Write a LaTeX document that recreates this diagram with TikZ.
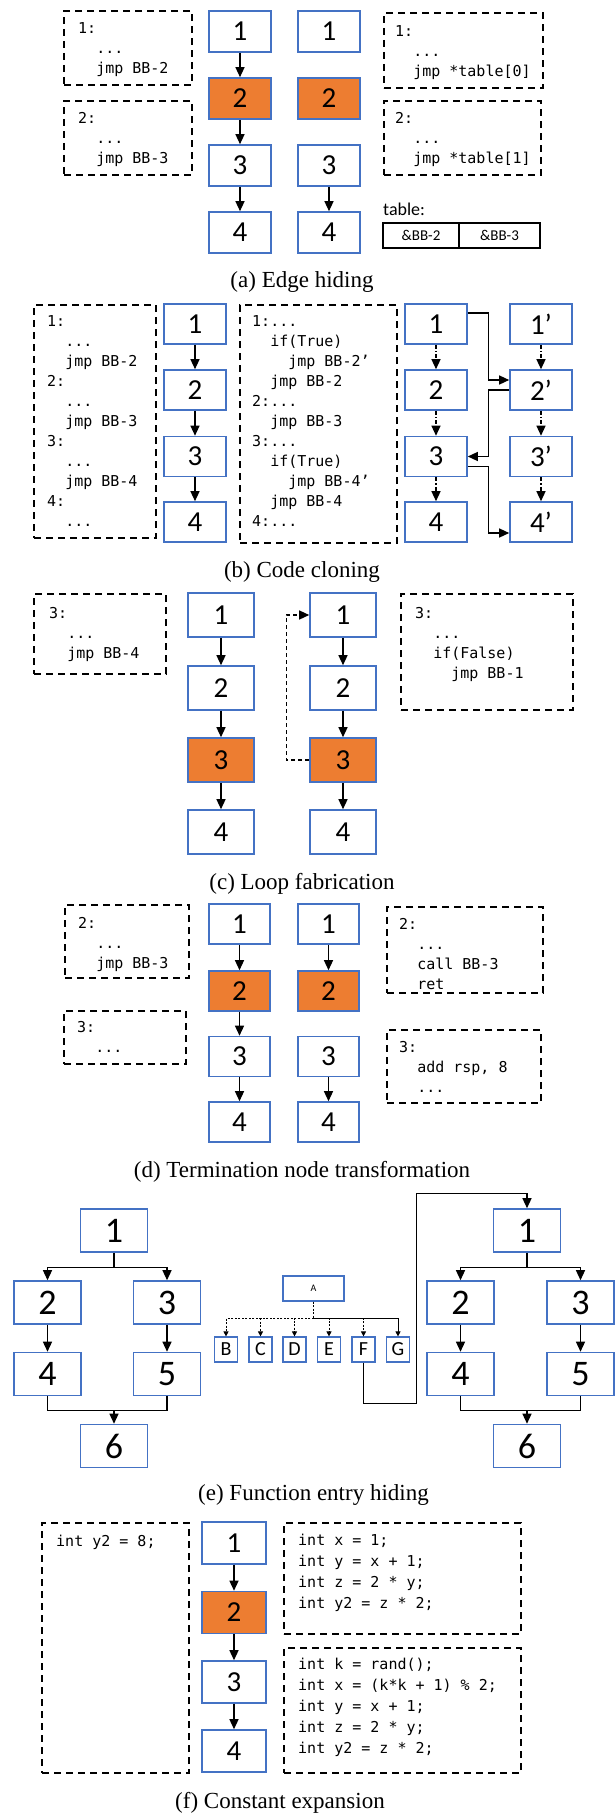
\documentclass[tikz,border=0pt]{standalone}
\usepackage{fontspec}
\setmainfont{Liberation Serif}
\setmonofont{DejaVu Sans Mono}
\newfontfamily\calibri{Carlito}
\usetikzlibrary{arrows.meta}
\definecolor{bbblue}{RGB}{68,114,196}
\definecolor{bborange}{RGB}{237,125,49}
\tikzset{
  bb/.style={draw=bbblue, line width=1.6pt, fill=white, inner sep=0pt,
    minimum width=62pt, minimum height=41pt, font=\calibri\fontsize{29}{29}\selectfont},
  hot/.style={fill=bborange},
  ebb/.style={bb, minimum width=67pt, minimum height=43pt, font=\calibri\fontsize{36}{36}\selectfont},
  sbb/.style={draw=bbblue, line width=1.2pt, fill=white, inner sep=0pt,
    minimum width=23pt, minimum height=25pt, font=\calibri\fontsize{20}{20}\selectfont},
  codebox/.style={draw, line width=2pt, dash pattern=on 7pt off 5pt, anchor=north west, inner sep=0pt},
  codetext/.style={anchor=north west, inner sep=0pt, align=left, font=\ttfamily\fontsize{15}{20}\selectfont},
  fcode/.style={codetext, font=\ttfamily\fontsize{15}{21}\selectfont},
  tcell/.style={draw, line width=2pt, inner sep=0pt, minimum height=25pt, font=\calibri\fontsize{15}{15}\selectfont},
  arr/.style={-{Triangle[length=10pt,width=9pt]}, line width=1.3pt},
  darr/.style={arr, dash pattern=on 4pt off 2pt on 1.5pt off 2pt},
  sarr/.style={-{Triangle[length=5pt,width=5pt]}, line width=0.8pt},
  captext/.style={font=\fontsize{23}{23}\selectfont},
}
\begin{document}
\begin{tikzpicture}[x=1pt,y=-1pt]
\useasboundingbox (0,0) rectangle (614,1814);

\node[codebox, minimum width=128pt, minimum height=74pt] (al1) at (63,10) {};
\node[codetext] (al1t) at ([shift={(15,12)}]al1.north west) {1:\\~~...\\~~jmp BB-2};
\node[codebox, minimum width=128pt, minimum height=74pt] (al2) at (63,100) {};
\node[codetext] (al2t) at ([shift={(15,12)}]al2.north west) {2:\\~~...\\~~jmp BB-3};
\node[codebox, minimum width=159pt, minimum height=75pt] (ar1) at (383,12) {};
\node[codetext] (ar1t) at ([shift={(12,13)}]ar1.north west) {1:\\~~...\\~~jmp *table[0]};
\node[codebox, minimum width=157pt, minimum height=74pt] (ar2) at (383,100) {};
\node[codetext] (ar2t) at ([shift={(12,12)}]ar2.north west) {2:\\~~...\\~~jmp *table[1]};

\node[bb] (aa1) at (240,31.5) {1};
\node[bb,hot] (aa2) at (240,98.5) {2};
\node[bb] (aa3) at (240,165.5) {3};
\node[bb] (aa4) at (240,232.5) {4};
\node[bb] (ab1) at (329,31.5) {1};
\node[bb,hot] (ab2) at (329,98.5) {2};
\node[bb] (ab3) at (329,165.5) {3};
\node[bb] (ab4) at (329,232.5) {4};
\draw[arr] (aa1) -- (aa2);
\draw[arr] (aa2) -- (aa3);
\draw[arr] (aa3) -- (aa4);
\draw[arr] (ab3) -- (ab4);

\node[font=\calibri\fontsize{18}{18}\selectfont, anchor=base west, inner sep=0pt] (atab) at (383,215) {table:};
\node[tcell, minimum width=76pt] (atc1) at (421,235.5) {\&BB-2};
\node[tcell, minimum width=81pt] (atc2) at (499.5,235.5) {\&BB-3};
\node[captext] (capa) at (302,282) {(a) Edge hiding};

\node[codebox, minimum width=122pt, minimum height=233pt] (bl) at (33,304) {};
\node[codetext] (blt) at ([shift={(14,11)}]bl.north west)
  {1:\\~~...\\~~jmp BB-2\\2:\\~~...\\~~jmp BB-3\\3:\\~~...\\~~jmp BB-4\\4:\\~~...};
\node[codebox, minimum width=157pt, minimum height=238pt] (bm) at (239,304) {};
\node[codetext] (bmt) at ([shift={(13,11)}]bm.north west)
  {1:...\\~~if(True)\\~~~~jmp BB-2’\\~~jmp BB-2\\2:...\\~~jmp BB-3\\3:...\\~~if(True)\\~~~~jmp BB-4’\\~~jmp BB-4\\4:...};

\node[bb, minimum height=40pt] (ba1) at (195,324) {1};
\node[bb, minimum height=40pt] (ba2) at (195,390) {2};
\node[bb, minimum height=40pt] (ba3) at (195,456.5) {3};
\node[bb, minimum height=40pt] (ba4) at (195,522) {4};
\node[bb, minimum height=40pt] (bc1) at (436,324) {1};
\node[bb, minimum height=40pt] (bc2) at (436,390) {2};
\node[bb, minimum height=40pt] (bc3) at (436,456.5) {3};
\node[bb, minimum height=40pt] (bc4) at (436,522) {4};
\node[bb, minimum height=40pt] (bd1) at (541,324) {1’};
\node[bb, minimum height=40pt] (bd2) at (541,390) {2’};
\node[bb, minimum height=40pt] (bd3) at (541,456.5) {3’};
\node[bb, minimum height=40pt] (bd4) at (541,522) {4’};
\draw[arr] (ba1) -- (ba2);
\draw[arr] (ba2) -- (ba3);
\draw[arr] (ba3) -- (ba4);
\draw[darr] (bc1) -- (bc2);
\draw[darr] (bc2) -- (bc3);
\draw[darr] (bc3) -- (bc4);
\draw[darr] (bd1) -- (bd2);
\draw[darr] (bd2) -- (bd3);
\draw[darr] (bd3) -- (bd4);
\draw[arr] ([yshift=11pt]bc1.east) -- ++(21,0) |- ([yshift=10pt]bd2.west);
\draw[arr] (bd2.west) -- ++(-21,0) |- (bc3.east);
\draw[arr] ([yshift=-10pt]bc3.east) -- ++(21,0) |- ([yshift=-11pt]bd4.west);
\node[captext] (capb) at (302,572) {(b) Code cloning};

\node[codebox, minimum width=132pt, minimum height=80pt] (cl) at (33,593) {};
\node[codetext] (clt) at ([shift={(16,14)}]cl.north west) {3:\\~~...\\~~jmp BB-4};
\node[codebox, minimum width=172pt, minimum height=116pt] (cr) at (400,593) {};
\node[codetext] (crt) at ([shift={(15,14)}]cr.north west) {3:\\~~...\\~~if(False)\\~~~~jmp BB-1};

\node[bb, minimum width=66pt, minimum height=44pt] (ca1) at (221,615) {1};
\node[bb, minimum width=66pt, minimum height=44pt] (ca2) at (221,688) {2};
\node[bb, hot, minimum width=66pt, minimum height=44pt] (ca3) at (221,760) {3};
\node[bb, minimum width=66pt, minimum height=44pt] (ca4) at (221,832) {4};
\node[bb, minimum width=66pt, minimum height=44pt] (cb1) at (343,615) {1};
\node[bb, minimum width=66pt, minimum height=44pt] (cb2) at (343,688) {2};
\node[bb, hot, minimum width=66pt, minimum height=44pt] (cb3) at (343,760) {3};
\node[bb, minimum width=66pt, minimum height=44pt] (cb4) at (343,832) {4};
\draw[arr] (ca1) -- (ca2);
\draw[arr] (ca2) -- (ca3);
\draw[arr] (ca3) -- (ca4);
\draw[arr] (cb1) -- (cb2);
\draw[arr] (cb2) -- (cb3);
\draw[arr] (cb3) -- (cb4);
\draw[arr, dash pattern=on 4pt off 3pt] (cb3.west) -- ++(-23,0) |- (cb1.west);
\node[captext] (capc) at (302,884) {(c) Loop fabrication};

\node[codebox, minimum width=124pt, minimum height=73pt] (dl1) at (64,904) {};
\node[codetext] (dl1t) at ([shift={(14,13)}]dl1.north west) {2:\\~~...\\~~jmp BB-3};
\node[codebox, minimum width=122pt, minimum height=53pt] (dl2) at (63,1010) {};
\node[codetext] (dl2t) at ([shift={(14,11)}]dl2.north west) {3:\\~~...};
\node[codebox, minimum width=156pt, minimum height=86pt] (dr1) at (386,906) {};
\node[codetext] (dr1t) at ([shift={(13,12)}]dr1.north west) {2:\\~~...\\~~call BB-3\\~~ret};
\node[codebox, minimum width=154pt, minimum height=73pt] (dr2) at (386,1029) {};
\node[codetext] (dr2t) at ([shift={(13,12)}]dr2.north west) {3:\\~~add rsp, 8\\~~...};

\node[bb, minimum width=61pt, minimum height=40pt] (da1) at (239.5,924) {1};
\node[bb, hot, minimum width=61pt, minimum height=40pt] (da2) at (239.5,991) {2};
\node[bb, minimum width=61pt, minimum height=40pt] (da3) at (239.5,1056.5) {3};
\node[bb, minimum width=61pt, minimum height=40pt] (da4) at (239.5,1122) {4};
\node[bb, minimum width=61pt, minimum height=40pt] (db1) at (328.5,924) {1};
\node[bb, hot, minimum width=61pt, minimum height=40pt] (db2) at (328.5,991) {2};
\node[bb, minimum width=61pt, minimum height=40pt] (db3) at (328.5,1056.5) {3};
\node[bb, minimum width=61pt, minimum height=40pt] (db4) at (328.5,1122) {4};
\draw[arr] (da1) -- (da2);
\draw[arr] (da2) -- (da3);
\draw[arr] (da3) -- (da4);
\draw[arr] (db1) -- (db2);
\draw[arr] (db3) -- (db4);
\node[captext] (capd) at (302,1172) {(d) Termination node transformation};

\node[ebb] (el1) at (114,1230.5) {1};
\node[ebb] (el2) at (47.5,1302.5) {2};
\node[ebb] (el3) at (167,1302.5) {3};
\node[ebb] (el4) at (47.5,1374) {4};
\node[ebb] (el5) at (167,1374) {5};
\node[ebb] (el6) at (114,1446) {6};
\draw[line width=1.3pt] (el1.south) -- ++(0,15) coordinate (els);
\draw[arr] (els) -| (el2.north);
\draw[arr] (els) -| (el3.north);
\draw[arr] (el2) -- (el4);
\draw[arr] (el3) -- (el5);
\draw[line width=1.3pt] (el4.south) -- ++(0,14) coordinate (elj) -| (el5.south);
\draw[arr] (elj -| el6.north) -- (el6.north);

\node[ebb] (er1) at (527,1230.5) {1};
\node[ebb] (er2) at (460.5,1302.5) {2};
\node[ebb] (er3) at (580.5,1302.5) {3};
\node[ebb] (er4) at (460.5,1374) {4};
\node[ebb] (er5) at (580.5,1374) {5};
\node[ebb] (er6) at (527,1446) {6};
\draw[line width=1.3pt] (er1.south) -- ++(0,15) coordinate (ers);
\draw[arr] (ers) -| (er2.north);
\draw[arr] (ers) -| (er3.north);
\draw[arr] (er2) -- (er4);
\draw[arr] (er3) -- (er5);
\draw[line width=1.3pt] (er4.south) -- ++(0,14) coordinate (erj) -| (er5.south);
\draw[arr] (erj -| er6.north) -- (er6.north);

\node[sbb, minimum width=61pt, font=\calibri\fontsize{10}{10}\selectfont] (ema) at (313.5,1288.5) {A};
\node[sbb] (emb) at (226,1349.5) {B};
\node[sbb] (emc) at (260.5,1349.5) {C};
\node[sbb] (emd) at (294.5,1349.5) {D};
\node[sbb] (eme) at (329,1349.5) {E};
\node[sbb] (emf) at (363.5,1349.5) {F};
\node[sbb] (emg) at (398,1349.5) {G};
\draw[line width=0.8pt, dash pattern=on 2pt off 1.5pt] (ema.south) -- ++(0,17) coordinate (emj);
\foreach \n in {b,c,d,e,f}
  \draw[sarr, dash pattern=on 2pt off 1.5pt] (emj) -| (em\n.north);
\draw[sarr] (emj) -| (emg.north);
\draw[arr] (emf.south) -- ++(0,41) -- ++(53,0) -- ++(0,-210) -| (er1.north);
\node[captext] (cape) at (313.5,1495) {(e) Function entry hiding};

\node[codebox, minimum width=147pt, minimum height=250pt] (fl) at (41,1522) {};
\node[fcode] (flt) at ([shift={(15,13)}]fl.north west) {int y2 = 8;};
\node[codebox, minimum width=237pt, minimum height=111pt] (fr1) at (283,1522) {};
\node[fcode] (fr1t) at ([shift={(15,12)}]fr1.north west)
  {int x = 1;\\int y = x + 1;\\int z = 2 * y;\\int y2 = z * 2;};
\node[codebox, minimum width=237pt, minimum height=125pt] (fr2) at (283,1647) {};
\node[fcode] (fr2t) at ([shift={(15,11)}]fr2.north west)
  {int k = rand();\\int x = (k*k + 1) \% 2;\\int y = x + 1;\\int z = 2 * y;\\int y2 = z * 2;};

\node[bb, minimum width=64pt, minimum height=42pt] (f1) at (234,1543) {1};
\node[bb, hot, minimum width=64pt, minimum height=42pt] (f2) at (234,1612.5) {2};
\node[bb, minimum width=64pt, minimum height=42pt] (f3) at (234,1682) {3};
\node[bb, minimum width=64pt, minimum height=42pt] (f4) at (234,1751) {4};
\draw[arr] (f1) -- (f2);
\draw[arr] (f2) -- (f3);
\draw[arr] (f3) -- (f4);
\node[captext] (capf) at (280,1803) {(f) Constant expansion};
\end{tikzpicture}
\end{document}
